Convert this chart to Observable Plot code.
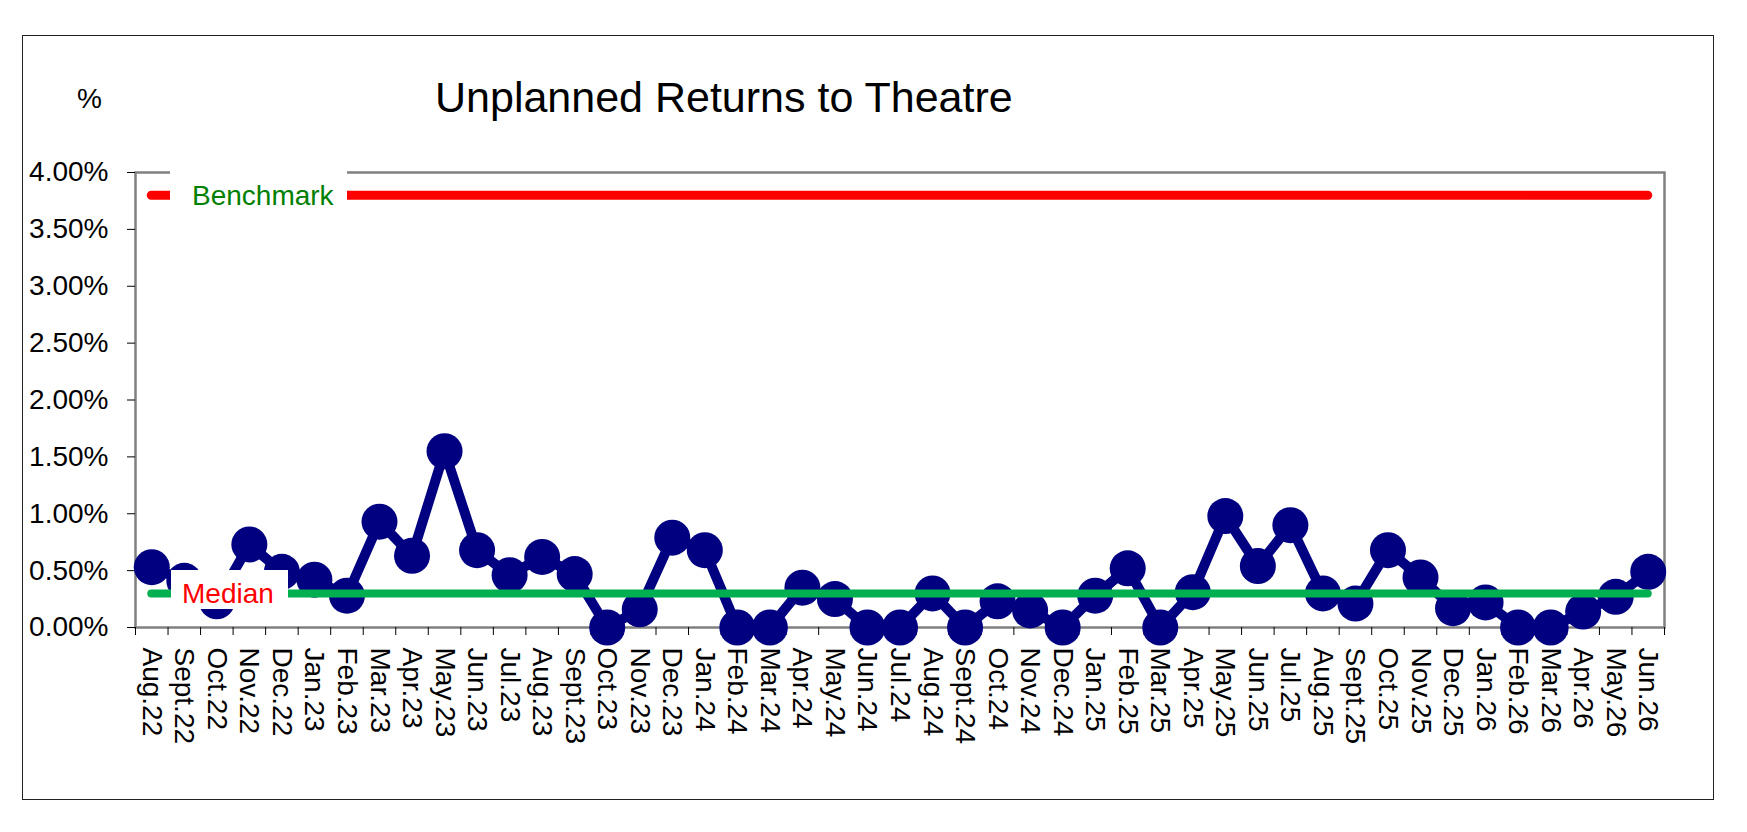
<!DOCTYPE html>
<html>
<head>
<meta charset="utf-8">
<script src="https://cdn.jsdelivr.net/npm/d3@7"></script>
<script src="https://cdn.jsdelivr.net/npm/@observablehq/plot@0.6"></script>
<style>
  html, body { margin: 0; padding: 0; background: #fff; overflow: hidden; }
  #wrap { position: relative; width: 1747px; height: 832px; font-family: 'Liberation Sans', Arial, sans-serif; }
  #wrap svg { position: absolute; left: 0; top: 0; z-index: 1; }
  .ov { position: absolute; white-space: nowrap; z-index: 2; }
  #frame { position: absolute; left: 22px; top: 35px; width: 1692px; height: 765px; border: 1.5px solid #222; box-sizing: border-box; z-index: 0; }
</style>
</head>
<body>
<div id="wrap">
  <div id="frame"></div>
</div>
<script>
const months = ["Aug.22","Sept.22","Oct.22","Nov.22","Dec.22",
  "Jan.23","Feb.23","Mar.23","Apr.23","May.23","Jun.23","Jul.23","Aug.23","Sept.23","Oct.23","Nov.23","Dec.23",
  "Jan.24","Feb.24","Mar.24","Apr.24","May.24","Jun.24","Jul.24","Aug.24","Sept.24","Oct.24","Nov.24","Dec.24",
  "Jan.25","Feb.25","Mar.25","Apr.25","May.25","Jun.25","Jul.25","Aug.25","Sept.25","Oct.25","Nov.25","Dec.25",
  "Jan.26","Feb.26","Mar.26","Apr.26","May.26","Jun.26"];
const values = [0.53,0.41,0.23,0.73,0.49,
  0.42,0.28,0.93,0.63,1.55,0.68,0.46,0.62,0.47,0,0.16,0.79,
  0.68,0,0,0.35,0.25,0,0,0.30,0,0.23,0.15,0,
  0.28,0.52,0,0.31,0.98,0.54,0.90,0.30,0.21,0.68,0.44,0.17,
  0.22,0,0,0.14,0.27,0.49];
const median = 0.3;
const benchmark = 3.8;
const yTicks = [0,0.5,1,1.5,2,2.5,3,3.5,4];
const title = "Unplanned Returns to Theatre";
const unitLabel = "%";
const benchmarkLabel = "Benchmark";
const medianLabel = "Median";

const data = months.map((m, i) => ({i, month: m, value: values[i]}));
const n = months.length;
const FONT = "'Liberation Sans', Arial, sans-serif";

const chart = Plot.plot({
  width: 1747, height: 832,
  marginLeft: 135, marginRight: 83, marginTop: 172, marginBottom: 205,
  style: {fontFamily: FONT, fontSize: "28px", color: "#000", background: "transparent", overflow: "visible"},
  x: {type: "linear", domain: [0, n]},
  y: {domain: [0, 4]},
  marks: [
    Plot.frame({stroke: "#808080", strokeWidth: 2.5}),
    Plot.axisY({ticks: yTicks, tickSize: 8, tickPadding: 19, tickFormat: d => d.toFixed(2) + "%", label: null, fontSize: 28}),
    Plot.axisX({ticks: d3.range(n + 1), tickSize: 8, tickFormat: () => "", label: null}),
    Plot.text(data, {x: d => d.i + 0.5, text: "month", frameAnchor: "bottom", dy: 20, rotate: 90, textAnchor: "start", lineAnchor: "middle", fontSize: 28, fill: "#000"}),
    Plot.ruleY([benchmark], {y: d => d, x1: 0.5, x2: n - 0.5, stroke: "#ff0000", strokeWidth: 9, strokeLinecap: "round"}),
    Plot.line(data, {x: d => d.i + 0.5, y: "value", stroke: "#000080", strokeWidth: 10, strokeLinejoin: "round"}),
    Plot.dot(data, {x: d => d.i + 0.5, y: "value", r: 18, fill: "#000080", stroke: "none"}),
    Plot.ruleY([median], {y: d => d, x1: 0.5, x2: n - 0.5, stroke: "#00b050", strokeWidth: 8, strokeLinecap: "round"})
  ]
});
const wrap = document.getElementById("wrap");
wrap.appendChild(chart);

function overlay(text, left, baseline, size, color, box) {
  const d = document.createElement("div");
  d.className = "ov";
  d.textContent = text;
  d.style.fontSize = size + "px";
  d.style.lineHeight = size + "px";
  d.style.color = color;
  d.style.left = left + "px";
  d.style.top = (baseline - 0.846 * size) + "px";
  if (box) {
    const b = document.createElement("div");
    b.className = "ov";
    b.style.background = "#fff";
    b.style.left = box[0] + "px"; b.style.top = box[1] + "px";
    b.style.width = box[2] + "px"; b.style.height = box[3] + "px";
    wrap.appendChild(b);
    d.style.zIndex = 3;
  }
  wrap.appendChild(d);
}
overlay(title, 435, 112, 43, "#000");
overlay(unitLabel, 77, 109, 28, "#000");
overlay(benchmarkLabel, 192, 206, 28, "#008000", [170, 171, 177, 46]);
overlay(medianLabel, 182, 604, 28, "#ff0000", [171, 570, 117, 39]);
</script>
</body>
</html>
